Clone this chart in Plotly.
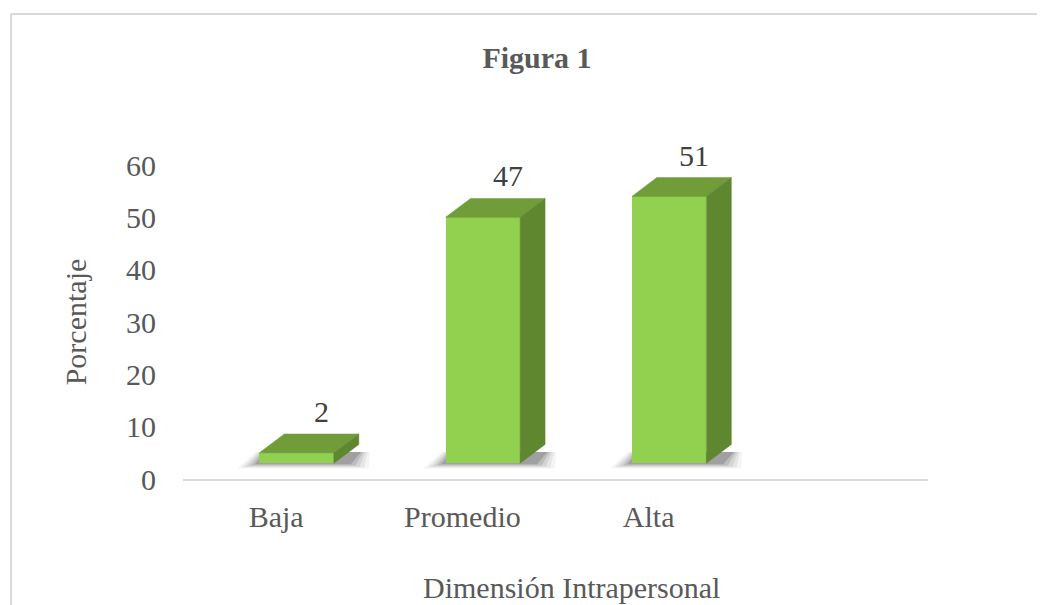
import plotly.graph_objects as go

# datos
CATEGORIAS = ["Baja", "Promedio", "Alta"]
PORCENTAJES = [2, 47, 51]
Y_TICKS = [0, 10, 20, 30, 40, 50, 60]

TEXT = "#595959"
FONT = "Liberation Serif, Times New Roman, serif"
FRONT = "#92D050"
TOP = "#709C3A"
SIDE = "#5E8730"

# pseudo-3D (in axis units)
BASE = 3.0      # floor offset of the front face
SHIFT = 0.11    # front face centre offset from the category
WIDTH = 0.40
DX = 0.134
DY = 3.6

OFF = 8  # page body margin
W, H = 1045 - OFF, 605 - OFF
L, T = 183 - OFF, 165 - OFF
R = W - (928 - OFF)
B = H - (479 - OFF)
PW, PH = W - L - R, H - T - B


def px(x):  # window pixel -> paper x
    return (x - OFF - L) / PW


def py(y):  # window pixel -> paper y
    return (H - B - (y - OFF)) / PH


fig = go.Figure()

xs = list(range(len(CATEGORIAS)))
shapes = []

# soft floor shadows (below traces)
for i, v in zip(xs, PORCENTAJES):
    x0 = i + SHIFT - WIDTH / 2
    x1 = i + SHIFT + WIDTH / 2
    for k, a in enumerate([0.04, 0.06, 0.08, 0.11, 0.15]):
        g = 0.12 - k * 0.024
        yb = BASE - 1.0 + k * 0.2
        shapes.append(dict(
            type="path", xref="x", yref="y", layer="below",
            path=(f"M {x0 - g} {yb} L {x1 + DX * 0.5 + g} {yb} "
                  f"L {x1 + DX + g * 0.5} {BASE + DY * 0.6} "
                  f"L {x0 + DX * 0.3 - g * 0.5} {BASE + DY * 0.6} Z"),
            fillcolor=f"rgba(0,0,0,{a})", line=dict(width=0),
        ))

# front faces
fig.add_trace(go.Bar(
    x=[i + SHIFT for i in xs], y=PORCENTAJES, base=BASE, width=WIDTH,
    marker=dict(color=FRONT, line=dict(width=0)),
    showlegend=False, hoverinfo="skip",
))

annotations = []
# top and side faces
for i, v in zip(xs, PORCENTAJES):
    x0 = i + SHIFT - WIDTH / 2
    x1 = i + SHIFT + WIDTH / 2
    top = BASE + v
    fig.add_trace(go.Scatter(
        x=[x0, x1, x1 + DX, x0 + DX, x0],
        y=[top, top, top + DY, top + DY, top],
        fill="toself", fillcolor=TOP, line=dict(width=0.5, color=TOP),
        mode="lines", hoverinfo="skip", showlegend=False,
    ))
    fig.add_trace(go.Scatter(
        x=[x1, x1 + DX, x1 + DX, x1, x1],
        y=[BASE, BASE + DY, top + DY, top, BASE],
        fill="toself", fillcolor=SIDE, line=dict(width=0.5, color=SIDE),
        mode="lines", hoverinfo="skip", showlegend=False,
    ))
    annotations.append(dict(
        x=i + SHIFT + DX, y=top + DY, text=str(v), showarrow=False,
        yanchor="bottom", yshift=4,
        font=dict(family=FONT, size=30, color="#404040"),
    ))

annotations.append(dict(
    text="Dimensión Intrapersonal", xref="paper", yref="paper",
    x=px(571), y=py(587), xanchor="center", yanchor="middle",
    showarrow=False, font=dict(family=FONT, size=30, color=TEXT),
))

shapes += [
    dict(type="line", xref="paper", yref="paper",
         x0=px(11), x1=px(1070), y0=py(14), y1=py(14),
         line=dict(color="#D9D9D9", width=2)),
    dict(type="line", xref="paper", yref="paper",
         x0=px(11), x1=px(11), y0=py(14), y1=py(640),
         line=dict(color="#D9D9D9", width=2)),
]

fig.update_layout(
    width=W, height=H,
    margin=dict(l=L, r=R, t=T, b=B, autoexpand=False),
    paper_bgcolor="white", plot_bgcolor="white",
    font=dict(family=FONT, size=30, color=TEXT),
    bargap=0,
    title=dict(text="<b>Figura 1</b>", x=(537 - OFF) / W, xanchor="center",
               y=1 - (57 - OFF) / H, yanchor="middle",
               font=dict(family=FONT, size=30, color=TEXT)),
    xaxis=dict(
        range=[-0.5, 3.5], tickvals=xs, ticktext=CATEGORIAS,
        showgrid=False, zeroline=False, showline=True,
        linecolor="#D9D9D9", linewidth=2, ticks="",
        ticklabelstandoff=10,
        tickfont=dict(family=FONT, size=30, color=TEXT),
    ),
    yaxis=dict(
        range=[0, 60], tickvals=Y_TICKS, showgrid=False, zeroline=False,
        showline=False, ticks="", ticklabelstandoff=26,
        tickfont=dict(family=FONT, size=30, color=TEXT),
        title=dict(text="Porcentaje", standoff=30,
                   font=dict(family=FONT, size=30, color=TEXT)),
    ),
    annotations=annotations,
    shapes=shapes,
)

fig.write_html("out.html")
